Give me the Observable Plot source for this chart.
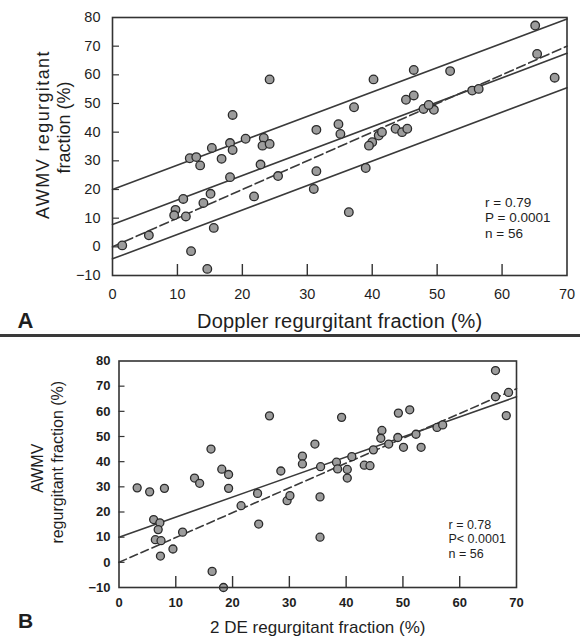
<!DOCTYPE html>
<html>
<head>
<meta charset="utf-8">
<script src="https://cdn.jsdelivr.net/npm/d3@7"></script>
<script src="https://cdn.jsdelivr.net/npm/@observablehq/plot@0.6"></script>
<style>
  body { margin: 0; background: #fff; }
  #wrap { position: relative; width: 580px; height: 639px; overflow: hidden; background: #fff; }
  #wrap svg { position: absolute; left: 0; }
  #sep { position: absolute; left: 0; top: 334px; width: 580px; height: 3px; background: #3a3a3a; }
</style>
</head>
<body>
<div id="wrap"><div id="sep"></div></div>
<script>
// ---------- Panel A data: Doppler RF (x) vs AWMV RF (y) ----------
const dopplerRF = [24.2,18.5,31.4,34.8,20.5,18.1,18.5,15.3,23.3,23.1,24.2,11.9,12.9,13.5,16.8,22.8,18.1,15.1,10.9,9.7,9.5,11.3,14.0,5.6,21.8,25.5,31.4,31.0,15.6,12.1,14.6,
                   65.1,46.4,52.0,40.2,68.1,65.4,45.2,46.4,37.2,47.9,49.5,48.7,55.4,56.4,43.6,44.6,45.4,41.0,40.0,39.5,35.1,39.0,36.4,1.5,41.5];
const awmvA     = [58.4,46.0,40.8,42.8,37.7,36.2,33.8,34.5,38.0,35.3,35.9,30.9,31.3,28.4,30.7,28.7,24.3,18.5,16.7,12.9,11.0,10.6,15.3,4.0,17.6,24.7,26.4,20.2,6.6,-1.5,-7.7,
                   77.2,61.7,61.3,58.4,59.0,67.3,51.3,52.8,48.7,48.1,47.8,49.5,54.5,55.1,41.2,40.0,41.2,38.8,36.5,35.3,39.4,27.5,12.1,0.5,40.0];
// line endpoints (x = 0 and x = 70)
const lineEndsX   = [0, 70];
const regA        = [7.8, 67.5];
const upperA      = [20.0, 79.5];
const lowerA      = [-4.2, 55.5];
const identityA   = [0, 70];
const statsA      = ["r = 0.79", "P = 0.0001", "n = 56"];

// ---------- Panel B data: 2 DE RF (x) vs AWMV RF (y) ----------
const twoDE = [3.2,5.4,8.0,13.3,14.2,16.2,18.1,19.3,19.3,26.5,6.1,7.2,6.9,6.4,7.4,11.2,9.5,7.3,16.4,18.4,24.6,24.4,28.5,29.6,30.1,34.5,32.3,32.3,35.4,35.4,21.5,
               66.3,68.2,66.3,68.6,49.2,51.2,39.2,46.3,46.1,49.1,50.1,53.2,52.3,56.0,57.0,43.2,44.2,40.2,40.2,38.3,38.5,41.0,47.5,35.5,44.8];
const awmvB = [29.6,28.0,29.4,33.5,31.4,45.0,37.0,34.9,29.4,58.2,17.0,15.7,13.0,9.0,8.6,12.0,5.3,2.5,-3.6,-10.0,15.2,27.4,36.3,24.5,26.5,47.0,42.2,39.1,26.0,10.0,22.5,
               76.2,58.3,65.8,67.5,59.3,60.6,57.6,52.4,49.3,49.6,45.7,45.7,50.9,53.6,54.6,38.6,38.4,36.9,33.5,39.8,37.1,42.0,47.0,38.0,44.7];
const regB      = [10.0, 65.8];
const identityB = [0, 69];
const statsB    = ["r = 0.78", "P< 0.0001", "n = 56"];

// ---------- shared ticks / labels ----------
const xTicks = [0,10,20,30,40,50,60,70];
const yTicks = [-10,0,10,20,30,40,50,60,70,80];
const innerX = [10,20,30,40,50,60];
const innerY = [0,10,20,30,40,50,60,70];
const xTitleA = "Doppler regurgitant fraction (%)";
const yTitleA = ["AWMV regurgitant", "fraction (%)"];
const xTitleB = "2 DE regurgitant fraction (%)";
const yTitleB = ["AWMV", "regurgitant fraction (%)"];

const ink = "#1e1e1e";
const font = "'Liberation Sans', Arial, Helvetica, sans-serif";
const seg = (ys) => lineEndsX.map((x, i) => ({x, y: ys[i]}));
const pts = (xs, ys) => xs.map((x, i) => ({x, y: ys[i]}));

// ---------- Panel A ----------
const hA = 334, mtA = 17, mbA = 59, mlA = 112, mrA = 13.5;
const pwA = 580 - mlA - mrA, phA = hA - mtA - mbA;
const plotA = Plot.plot({
  width: 580, height: hA,
  marginLeft: mlA, marginRight: mrA, marginTop: mtA, marginBottom: mbA,
  style: {fontFamily: font, fontSize: "14.5px", color: ink, background: "transparent", overflow: "visible"},
  x: {domain: [0, 70], ticks: xTicks, tickSize: 0, tickPadding: 13, label: null},
  y: {domain: [-10, 80], ticks: yTicks, tickSize: 0, tickPadding: 12, label: null},
  marks: [
    Plot.ruleX(innerX, {x: d => d, insetTop: phA - 11, stroke: "#333", strokeWidth: 1.4}),
    Plot.ruleY(innerY, {y: d => d, insetRight: pwA - 7, stroke: "#333", strokeWidth: 1.2}),
    Plot.line(seg(upperA), {x: "x", y: "y", stroke: "#3a3a3a", strokeWidth: 1.6}),
    Plot.line(seg(regA), {x: "x", y: "y", stroke: "#3a3a3a", strokeWidth: 1.6}),
    Plot.line(seg(lowerA), {x: "x", y: "y", stroke: "#3a3a3a", strokeWidth: 1.6}),
    Plot.line(seg(identityA), {x: "x", y: "y", stroke: "#3a3a3a", strokeWidth: 1.6, strokeDasharray: "9,4"}),
    Plot.dot(pts(dopplerRF, awmvA), {x: "x", y: "y", r: 4.3, fill: "#9c9c9c", stroke: "#2a2a2a", strokeWidth: 1.3}),
    Plot.frame({stroke: "#333", strokeWidth: 1.6}),
    Plot.text([statsA.join("\n")], {frameAnchor: "bottom-right", dx: -82, dy: -38, textAnchor: "start", lineAnchor: "bottom", lineHeight: 1.12, fontSize: 13.5, fill: ink}),
    Plot.text([xTitleA], {frameAnchor: "bottom", dy: 52, lineAnchor: "bottom", fontSize: 20, fill: ink}),
    Plot.text(["A"], {frameAnchor: "bottom-left", dx: -95, dy: 52, textAnchor: "start", lineAnchor: "bottom", fontSize: 22, fontWeight: "bold", fill: ink}),
    Plot.text([yTitleA[0]], {frameAnchor: "left", rotate: -90, dx: -64, dy: -12, lineAnchor: "bottom", textAnchor: "middle", fontSize: 18, fill: ink}),
    Plot.text([yTitleA[1]], {frameAnchor: "left", rotate: -90, dx: -43, dy: -19, lineAnchor: "bottom", textAnchor: "middle", fontSize: 18, fill: ink})
  ]
});
plotA.style.top = "0px";
document.getElementById("wrap").appendChild(plotA);
d3.select(plotA).selectAll("text").filter(function() { return this.textContent === yTitleA[0]; }).attr("letter-spacing", "1.4px");
d3.select(plotA).selectAll("text").filter(function() { return this.textContent === xTitleA; }).attr("letter-spacing", "0.2px");

// ---------- Panel B ----------
const hB = 302, mtB = 23.5, mbB = 52, mlB = 118.5, mrB = 64;
const pwB = 580 - mlB - mrB, phB = hB - mtB - mbB;
const plotB = Plot.plot({
  width: 580, height: hB,
  marginLeft: mlB, marginRight: mrB, marginTop: mtB, marginBottom: mbB,
  style: {fontFamily: font, fontSize: "13px", fontWeight: "bold", color: ink, background: "transparent", overflow: "visible"},
  x: {domain: [0, 70], ticks: xTicks, tickSize: 0, tickPadding: 10, label: null},
  y: {domain: [-10, 80], ticks: yTicks, tickSize: 0, tickPadding: 8.5, label: null},
  marks: [
    Plot.ruleX(innerX, {x: d => d, insetTop: phB - 11, stroke: "#333", strokeWidth: 1.4}),
    Plot.ruleY(innerY, {y: d => d, insetRight: pwB - 6, stroke: "#333", strokeWidth: 1.2}),
    Plot.line(seg(regB), {x: "x", y: "y", stroke: "#3a3a3a", strokeWidth: 1.6}),
    Plot.line(seg(identityB), {x: "x", y: "y", stroke: "#3a3a3a", strokeWidth: 1.6, strokeDasharray: "8,4"}),
    Plot.dot(pts(twoDE, awmvB), {x: "x", y: "y", r: 4, fill: "#9c9c9c", stroke: "#2a2a2a", strokeWidth: 1.3}),
    Plot.frame({stroke: "#333", strokeWidth: 1.6}),
    Plot.text([statsB.join("\n")], {frameAnchor: "bottom-right", dx: -68, dy: -30, textAnchor: "start", lineAnchor: "bottom", lineHeight: 1.15, fontSize: 12.5, fontWeight: "normal", fill: ink}),
    Plot.text([xTitleB], {frameAnchor: "bottom", dy: 45, lineAnchor: "bottom", fontSize: 17, fontWeight: "normal", fill: ink}),
    Plot.text(["B"], {frameAnchor: "bottom-left", dx: -101, dy: 40, textAnchor: "start", lineAnchor: "bottom", fontSize: 21, fontWeight: "bold", fill: ink}),
    Plot.text([yTitleB[0]], {frameAnchor: "left", rotate: -90, dx: -76.5, dy: -6, lineAnchor: "bottom", textAnchor: "middle", fontSize: 16, fontWeight: "normal", fill: ink}),
    Plot.text([yTitleB[1]], {frameAnchor: "left", rotate: -90, dx: -56.5, dy: -12, lineAnchor: "bottom", textAnchor: "middle", fontSize: 16, fontWeight: "normal", fill: ink})
  ]
});
plotB.style.top = "337px";
document.getElementById("wrap").appendChild(plotB);
</script>
</body>
</html>
